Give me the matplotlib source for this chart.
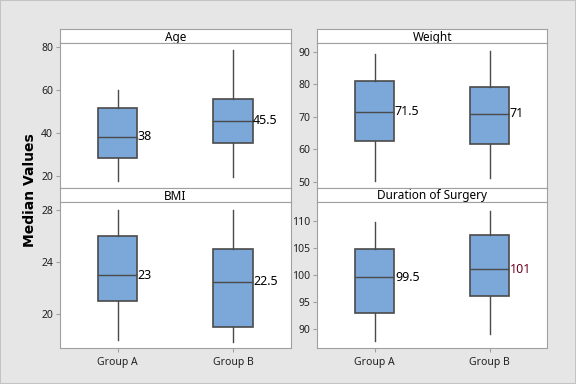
import matplotlib
matplotlib.use("Agg")
import matplotlib.pyplot as plt
from matplotlib.patches import Rectangle

plt.rcParams['font.family'] = ['Noto Sans', 'DejaVu Sans']

groups = ['Group A', 'Group B']
panels = ['Age', 'Weight', 'BMI', 'Duration of Surgery']

# whisker low, Q1, median, Q3, whisker high per group
age_stats = [[17.5, 28, 38, 51.3, 60], [19.5, 35, 45.5, 55.8, 78.5]]
weight_stats = [[50.3, 62.4, 71.5, 80.9, 89.3], [51.2, 61.5, 71, 79.2, 90.2]]
bmi_stats = [[18, 21, 23, 26, 28], [17.9, 19, 22.5, 25, 28]]
surgery_stats = [[87.8, 93, 99.5, 104.8, 109.8], [89.1, 96, 101, 107.3, 111.8]]

age_ticks = [20, 40, 60, 80]
weight_ticks = [50, 60, 70, 80, 90]
bmi_ticks = [20, 24, 28]
surgery_ticks = [90, 95, 100, 105, 110]

all_stats = [age_stats, weight_stats, bmi_stats, surgery_stats]
all_ticks = [age_ticks, weight_ticks, bmi_ticks, surgery_ticks]
ylims = [(14.1, 81.6), (48.0, 92.6), (17.39, 28.59), (86.4, 113.4)]
label_colors = [['black', 'black'], ['black', 'black'],
                ['black', 'black'], ['black', '#6b0020']]

W, H = 576, 384
fig = plt.figure(figsize=(W / 100, H / 100), dpi=100)
fig.patch.set_facecolor('#e6e6e6')
fig.patches.append(Rectangle((0, 0), 1, 1, transform=fig.transFigure,
                             fill=False, edgecolor='#c4c4c4', lw=1.5))

col_x = [(60, 290.7), (317.3, 547.3)]
row_y = [(29.3, 43.3, 188.3), (188.3, 202.3, 348.3)]
edge = '#a0a0a0'


def px_box(x0, x1, y0, y1):
    return [x0 / W, 1 - y1 / H, (x1 - x0) / W, (y1 - y0) / H]


for i, name in enumerate(panels):
    r, c = divmod(i, 2)
    x0, x1 = col_x[c]
    ys, ye, yb = row_y[r]

    # strip header
    sax = fig.add_axes(px_box(x0, x1, ys, ye))
    sax.set_xticks([])
    sax.set_yticks([])
    for s in sax.spines.values():
        s.set_color(edge)
    sax.text(0.5, 0.45, name, ha='center', va='center', fontsize=8.5,
             transform=sax.transAxes)

    ax = fig.add_axes(px_box(x0, x1, ye, yb))
    stats = []
    for g, v in zip(groups, all_stats[i]):
        stats.append(dict(label=g, whislo=v[0], q1=v[1], med=v[2],
                          q3=v[3], whishi=v[4], fliers=[]))
    ax.bxp(stats, positions=[1, 2], widths=0.34, patch_artist=True,
           showcaps=False,
           boxprops=dict(facecolor='#7ba7d9', edgecolor='#4a4a4a', lw=1.2),
           medianprops=dict(color='#4a4a4a', lw=1.0),
           whiskerprops=dict(color='#4a4a4a', lw=1.0))
    for k, v in enumerate(all_stats[i]):
        med = v[2]
        ax.text(k + 1 + 0.175, med, '%g' % med, ha='left', va='center',
                fontsize=9, color=label_colors[i][k])
    ax.set_xlim(0.5, 2.5)
    ax.set_ylim(*ylims[i])
    ax.set_yticks(all_ticks[i])
    ax.tick_params(axis='y', labelsize=7.5, length=3, color=edge, pad=2,
                   labelcolor='#222222')
    if r == 1:
        ax.set_xticks([1, 2])
        ax.set_xticklabels(groups)
        ax.tick_params(axis='x', labelsize=7.5, length=3, color=edge,
                       labelcolor='#222222')
    else:
        ax.set_xticks([])
    for s in ax.spines.values():
        s.set_color(edge)

fig.text(30 / W, 1 - 190 / H, 'Median Values', rotation=90, ha='center',
         va='center', fontsize=10, fontweight='bold',
         family=['DejaVu Sans'])

fig.savefig('out.png', dpi=100, facecolor=fig.get_facecolor())
